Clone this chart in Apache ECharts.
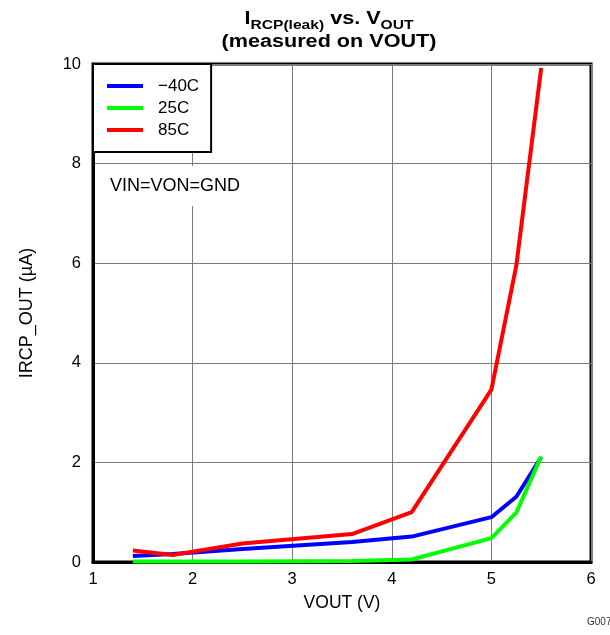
<!DOCTYPE html>
<html>
<head>
<meta charset="utf-8">
<script src="https://cdn.jsdelivr.net/npm/echarts@6/dist/echarts.min.js"></script>
<style>
  html, body { margin: 0; padding: 0; background: #fff; }
  #chart { width: 610px; height: 635px; }
</style>
</head>
<body>
<div id="chart"></div>
<script>
// Output voltage sweep (V)
const vout = [1.4, 1.8, 2.5, 3.6, 4.2, 5, 5.25, 5.5];
// Leakage current on VOUT (µA) per temperature
const ileakM40 = [0.12, 0.16, 0.26, 0.40, 0.51, 0.90, 1.31, 2.10];
const ileak25 = [0.01, 0.01, 0.01, 0.02, 0.05, 0.48, 0.99, 2.12];
const ileak85 = [0.23, 0.14, 0.37, 0.56, 1.00, 3.46, 5.95, 9.92];
const seriesNames = ['\u221240C', '25C', '85C'];
const xTicks = [1, 2, 3, 4, 5, 6];
const yTicks = [0, 2, 4, 6, 8, 10];

const font = 'Liberation Sans, Arial, sans-serif';
const pair = (xs, ys) => xs.map((x, i) => [x, ys[i]]);

const chart = echarts.init(document.getElementById('chart'));
chart.setOption({
  animation: false,
  backgroundColor: '#ffffff',
  grid: {
    left: 93, right: 19, top: 64, bottom: 73,
    show: true, borderColor: '#000', borderWidth: 3, backgroundColor: '#fff'
  },
  legend: {
    data: seriesNames,
    orient: 'vertical',
    left: 93, top: 64,
    backgroundColor: '#fff',
    borderColor: '#000', borderWidth: 2, borderRadius: 0,
    padding: [13, 12, 13, 14],
    itemGap: 4,
    itemWidth: 36, itemHeight: 4,
    icon: 'rect',
    textStyle: { fontFamily: font, fontSize: 17, color: '#000', padding: [0, 0, 0, 10], lineHeight: 18 }
  },
  xAxis: {
    type: 'value', min: xTicks[0], max: xTicks[xTicks.length - 1], interval: 1,
    name: 'VOUT (V)', nameLocation: 'middle', nameGap: 32,
    nameTextStyle: { fontFamily: font, fontSize: 17.5, color: '#000' },
    axisLine: { show: true, lineStyle: { color: '#000', width: 3 } },
    axisTick: { show: false },
    axisLabel: { fontFamily: font, fontSize: 16.5, color: '#000', margin: 9 },
    splitLine: { show: true, lineStyle: { color: '#7a7a7a', width: 1 } }
  },
  yAxis: {
    type: 'value', min: yTicks[0], max: yTicks[yTicks.length - 1], interval: 2,
    name: 'IRCP_OUT (\u00b5A)', nameLocation: 'middle', nameGap: 57, nameRotate: 90,
    nameTextStyle: { fontFamily: font, fontSize: 18, color: '#000' },
    axisLine: { show: true, lineStyle: { color: '#000', width: 3 } },
    axisTick: { show: false },
    axisLabel: { fontFamily: font, fontSize: 16.5, color: '#000', margin: 12 },
    splitLine: { show: true, lineStyle: { color: '#7a7a7a', width: 1 } }
  },
  series: [
    { name: seriesNames[0], type: 'line', data: pair(vout, ileakM40), symbol: 'none', color: '#0000ff', lineStyle: { width: 4 }, z: 3 },
    { name: seriesNames[1], type: 'line', data: pair(vout, ileak25), symbol: 'none', color: '#00ff00', lineStyle: { width: 4 }, z: 4 },
    { name: seriesNames[2], type: 'line', data: pair(vout, ileak85), symbol: 'none', color: '#ff0000', lineStyle: { width: 4 }, z: 5 }
  ],
  graphic: [
    // Two-line heading with subscripts, widened slightly
    {
      type: 'text', x: 329, y: 5, scaleX: 1.2, z: 20,
      style: {
        text: '{b|I}{s|RCP(leak)}{b| vs. V}{s|OUT}\n{b|(measured on VOUT)}',
        align: 'center',
        fill: '#000',
        rich: {
          b: { fontSize: 18, fontWeight: 'bold', fill: '#000', fontFamily: font, lineHeight: 23, verticalAlign: 'bottom' },
          s: { fontSize: 13, fontWeight: 'bold', fill: '#000', fontFamily: font, lineHeight: 23, verticalAlign: 'bottom', padding: [0, 0, -4, 0] }
        }
      }
    },
    {
      type: 'rect', left: 95, top: 166, z: 10,
      shape: { width: 155, height: 40 },
      style: { fill: '#fff' }
    },
    {
      type: 'text', left: 110, top: 177, z: 11,
      style: { text: 'VIN=VON=GND', font: '18px ' + font, fill: '#000' }
    },
    {
      type: 'text', left: 587, top: 617, z: 11,
      style: { text: 'G007', font: '10px ' + font, fill: '#333' }
    }
  ]
});
</script>
</body>
</html>
